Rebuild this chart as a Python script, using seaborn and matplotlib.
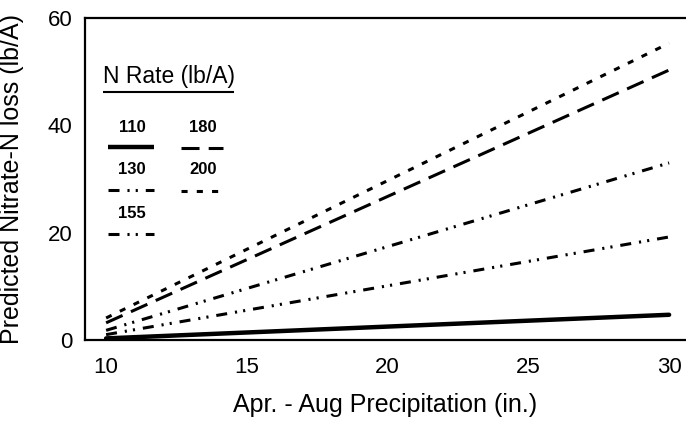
import numpy as np
import pandas as pd
import matplotlib
matplotlib.use("Agg")
import matplotlib.pyplot as plt
import seaborn as sns

# Data
precip = [10, 30]
rates = ["110", "130", "155", "180", "200"]
loss_110 = [0.3, 4.7]
loss_130 = [1.0, 19.2]
loss_155 = [1.8, 33.0]
loss_180 = [3.2, 50.3]
loss_200 = [4.1, 55.3]
x_ticks = [10, 15, 20, 25, 30]
y_ticks = [0, 20, 40, 60]

series = {"110": loss_110, "130": loss_130, "155": loss_155,
          "180": loss_180, "200": loss_200}
rows = []
for r in rates:
    for x, y in zip(precip, series[r]):
        rows.append({"precip": x, "loss": y, "rate": r})
df = pd.DataFrame(rows)

sns.set_theme(style="white")
plt.rcParams['font.family'] = ['Liberation Sans', 'DejaVu Sans']

dash_styles = {
    "110": "",
    "130": (3.6, 2.6, 0.7, 2.0, 0.7, 2.6),
    "155": (3.6, 2.6, 0.7, 2.0, 0.7, 2.6),
    "180": (5.9, 3.0),
    "200": (2.0, 3.0),
}

W, H = 686, 421
L, R, B, T = 85, 686, 340, 18
fig = plt.figure(figsize=(W / 100, H / 100), dpi=100)
ax = fig.add_axes([L / W, (H - B) / H, (R - L) / W, (B - T) / H])

sns.lineplot(data=df, x="precip", y="loss", hue="rate", style="rate",
             palette=["black"] * 5, dashes=dash_styles, linewidth=2.2,
             legend=False, ax=ax)
ax.lines[0].set_linewidth(3.2)

ax.set_xlim(9.25, 30.6)
ax.set_ylim(0, 60)
ax.set_xticks(x_ticks)
ax.set_yticks(y_ticks)
ax.tick_params(axis="x", labelsize=16, length=0, pad=12, colors="black")
ax.tick_params(axis="y", labelsize=16, length=0, pad=9, colors="black")
ax.set_xlabel("Apr. - Aug Precipitation (in.)", fontsize=18, labelpad=11, color="black")
ax.set_ylabel("Predicted Nitrate-N loss (lb/A)", fontsize=18, labelpad=17, color="black")
for side in ["left", "bottom", "top"]:
    ax.spines[side].set_color("black")
    ax.spines[side].set_linewidth(1.6)
ax.spines["right"].set_visible(False)

# Custom legend (label above line sample)
def fx(px):
    return (px - L) / (R - L)

def fy(py):
    return (B - py) / (B - T)

ax.text(fx(103), fy(77), "N Rate (lb/A)", transform=ax.transAxes,
        fontsize=16.5, va="center", ha="left", color="black")
ax.plot([fx(103), fx(234)], [fy(92), fy(92)], transform=ax.transAxes,
        color="black", lw=1.5, solid_capstyle="butt")

legend_items = [
    ("110", 132, 127, 108, 154, 147),
    ("180", 203, 127, 181, 223, 148),
    ("130", 132, 170, 108, 154, 190),
    ("200", 203, 170, 181, 223, 191),
    ("155", 132, 213, 108, 154, 234),
]
for lab, tx, ty, x0, x1, ly in legend_items:
    ax.text(fx(tx), fy(ty), lab, transform=ax.transAxes, fontsize=12,
            fontweight="bold", ha="center", va="center", color="black")
    ls = "-" if dash_styles[lab] == "" else (0, dash_styles[lab])
    ax.plot([fx(x0), fx(x1)], [fy(ly), fy(ly)], transform=ax.transAxes,
            color="black", lw=3.2 if lab == "110" else 2.2, linestyle=ls,
            solid_capstyle="butt")

fig.savefig("out.png", dpi=100)
